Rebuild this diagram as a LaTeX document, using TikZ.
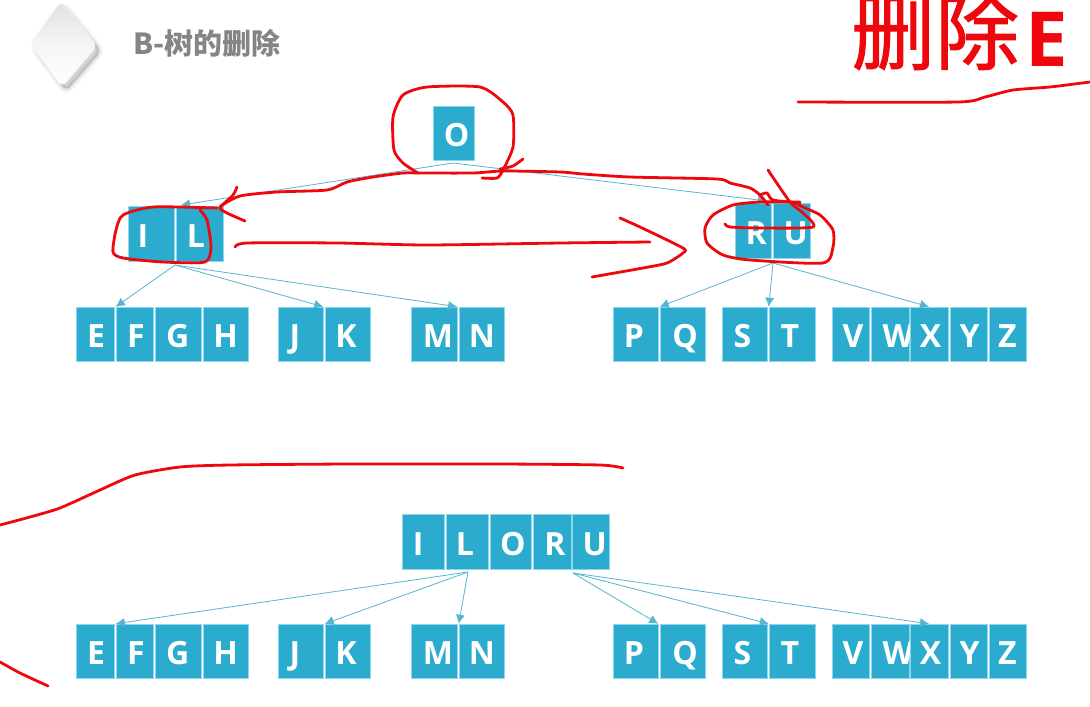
\documentclass[tikz,border=0pt]{standalone}
\usepackage{fontspec}
\setmainfont{Open Sans}
\newfontfamily\cjkfont{Noto Sans CJK SC}
\newfontfamily\cjkheavy[FakeBold=1.2]{Noto Sans CJK SC}
\usetikzlibrary{arrows.meta}
\definecolor{cellblue}{RGB}{43,172,207}
\definecolor{celledge}{RGB}{140,215,235}
\definecolor{linkblue}{RGB}{85,182,208}
\definecolor{inkred}{RGB}{238,8,14}
\tikzset{
  cellbox/.style={fill=cellblue,draw=celledge,line width=.5pt,inner sep=0pt,text=white,
    font=\bfseries\fontsize{32}{32}\selectfont,text height=27pt,text depth=0pt},
  link/.style={draw=linkblue,line width=.8pt,-{Latex[length=9pt,width=9pt]}},
  ink/.style={draw=inkred,line width=2.8pt,line cap=round,line join=round},
}
% name, left, right, top, bottom, letter shift, letter
\newcommand{\cellnode}[7]{%
  \pgfmathsetmacro{\cx}{(#2+#3)/2}\pgfmathsetmacro{\cy}{(#4+#5)/2}%
  \pgfmathsetmacro{\cw}{#3-#2}\pgfmathsetmacro{\ch}{#5-#4}%
  \node[cellbox,minimum width=\cw pt,minimum height=\ch pt] (#1) at (\cx,\cy)
    {\makebox[0pt][c]{\hspace*{#6pt}#7}};}
\newcommand{\inkline}[1]{\draw[ink] plot[smooth,tension=.4] coordinates {#1};}
\begin{document}
\begin{tikzpicture}[x=1pt,y=-1pt]
\useasboundingbox (0,0) rectangle (1090,707);
\fill[white] (0,0) rectangle (1090,707);

% decorative diamond
\foreach \g/\o in {9/.03,7/.04,5/.05,3/.07,1/.08}{
  \draw[black!60,opacity=\o,line width=\g pt,fill=black!60,rounded corners=6pt,line join=round]
    (64,6) -- (101,51) -- (66,91) -- (34,48) -- cycle;
}
\shade[top color=white!88!black,bottom color=white,middle color=white!96!black,rounded corners=6pt,draw=white!96!black]
  (61,1) -- (97,46) -- (62,87) -- (30,44) -- cycle;

% title
\node[anchor=west,inner sep=0pt,text=black!48,font=\cjkfont\bfseries\fontsize{29}{29}\selectfont] (title) at (133,43) {B-树的删除};
\node[anchor=west,inner sep=0pt,text=inkred,font=\cjkheavy\fontsize{84}{84}\selectfont] (bigtitle) at (851,31) {删除};
\node[anchor=west,inner sep=0pt,text=inkred,font=\bfseries\fontsize{76}{76}\selectfont] (bigE) at (1025,39) {E};

% top tree
\cellnode{O}{433}{474}{106}{160.5}{6}{O}
\cellnode{I}{128}{174}{206.5}{261}{-16}{I}
\cellnode{L}{176}{223}{206.5}{261}{-7}{L}
\cellnode{R}{735}{771.5}{203}{258}{6}{R}
\cellnode{U}{773.5}{810}{203}{258}{8}{U}

\cellnode{E}{76}{114}{307}{361.5}{2}{E}
\cellnode{F}{116}{153}{307}{361.5}{3}{F}
\cellnode{G}{155.5}{201}{307}{361.5}{-1}{G}
\cellnode{H}{203}{248}{307}{361.5}{0}{H}
\cellnode{J}{278}{323}{307}{361.5}{-11}{J}
\cellnode{K}{325}{370}{307}{361.5}{-3}{K}
\cellnode{M}{411}{457}{307}{361.5}{8}{M}
\cellnode{N}{459}{504}{307}{361.5}{1}{N}
\cellnode{P}{613}{658}{307}{361.5}{-3}{P}
\cellnode{Q}{660}{705}{307}{361.5}{5}{Q}
\cellnode{S}{722}{767}{307}{361.5}{-4}{S}
\cellnode{T}{769}{815}{307}{361.5}{-4}{T}
\cellnode{V}{832}{869}{307}{361.5}{5}{V}
\cellnode{W}{871}{909}{307}{361.5}{16}{W}
\cellnode{X}{910}{948}{307}{361.5}{3}{X}
\cellnode{Y}{950}{987}{307}{361.5}{2}{Y}
\cellnode{Z}{989}{1026}{307}{361.5}{0}{Z}

% bottom tree
\cellnode{bI}{402.5}{444}{514}{569}{-10}{I}
\cellnode{bL}{446}{488}{514}{569}{-4}{L}
\cellnode{bO}{490}{531.5}{514}{569}{4}{O}
\cellnode{bR}{533}{571}{514}{569}{6}{R}
\cellnode{bU}{572.5}{609}{514}{569}{8}{U}

\cellnode{bE}{76}{114}{624}{678}{2}{E}
\cellnode{bF}{116}{153}{624}{678}{3}{F}
\cellnode{bG}{155.5}{201}{624}{678}{-1}{G}
\cellnode{bH}{203}{248}{624}{678}{0}{H}
\cellnode{bJ}{278}{323}{624}{678}{-11}{J}
\cellnode{bK}{325}{370}{624}{678}{-3}{K}
\cellnode{bM}{411}{457}{624}{678}{8}{M}
\cellnode{bN}{459}{504}{624}{678}{1}{N}
\cellnode{bP}{613}{658}{624}{678}{-3}{P}
\cellnode{bQ}{660}{705}{624}{678}{5}{Q}
\cellnode{bS}{722}{767}{624}{678}{-4}{S}
\cellnode{bT}{769}{815}{624}{678}{-4}{T}
\cellnode{bV}{832}{869}{624}{678}{5}{V}
\cellnode{bW}{871}{909}{624}{678}{16}{W}
\cellnode{bX}{910}{948}{624}{678}{3}{X}
\cellnode{bY}{950}{987}{624}{678}{2}{Y}
\cellnode{bZ}{989}{1026}{624}{678}{0}{Z}

% connector ends
\coordinate (oOut) at (453,163);
\coordinate (ilOut) at (175,265);
\coordinate (ruOut) at (773,263);
\coordinate (blOut) at (468,572);
\coordinate (buOut) at (573,573);
\coordinate (ilIn) at (181,205);
\coordinate (ruIn) at (767,201);

\draw[link] (oOut) -- (ilIn);
\draw[link] (oOut) -- (ruIn);
\draw[link] (ilOut) -- (F.north west);
\draw[link] (ilOut) -- (J.north east);
\draw[link] (ilOut) -- (M.north east);
\draw[link] (ruOut) -- (Q.north west);
\draw[link] (ruOut) -- (T.north west);
\draw[link] (ruOut) -- (X.north);
\draw[link] (blOut) -- (bF.north west);
\draw[link] (blOut) -- (bK.north west);
\draw[link] (blOut) -- (bN.north west);
\draw[link] (buOut) -- (bP.north east);
\draw[link] (buOut) -- (bT.north west);
\draw[link] (buOut) -- (bX.north);

% red handwriting
\inkline{(798,102) (958,102) (985,97) (1013,90) (1050,87) (1090,82)}
\inkline{(482,178) (497,178) (503,170) (513,147) (513,115) (503,102) (480,87) (427,87) (403,95) (393,117) (394,150) (403,163) (418,173)}
\inkline{(523,159) (513,166) (500,169)}
\inkline{(418,173) (403,173) (373,177) (347,182) (327,190) (277,192) (240,196) (220,207) (227,213) (245,221)}
\inkline{(237,187) (233,195) (220,207)}
\inkline{(418,173) (473,173) (503,171) (560,172) (583,174) (630,177) (717,179) (730,183) (750,188) (760,195) (768,205)}
\inkline{(760,195) (767,193) (773,200) (800,203)}
\inkline{(768,170) (790,202) (803,213) (813,227) (760,228) (730,227) (725,224)}
\inkline{(800,202) (760,202) (733,205) (713,215) (705,228) (707,243) (723,255) (750,260) (823,263) (833,247) (833,230) (820,215) (803,207) (793,202)}
\inkline{(235,247) (247,243) (338,243) (427,245) (560,243) (650,242)}
\inkline{(620,218) (640,227) (683,248) (683,253) (667,263) (643,268) (592,277)}
\inkline{(217,208) (153,207) (123,215) (116,230) (113,252) (123,258) (163,262) (205,262) (211,247) (207,220) (200,210)}
\inkline{(0,525) (30,517) (60,508) (100,490) (135,475) (180,467) (230,465) (350,464) (500,464) (600,465) (623,468)}
\inkline{(0,662) (20,673) (48,686)}
\end{tikzpicture}
\end{document}
